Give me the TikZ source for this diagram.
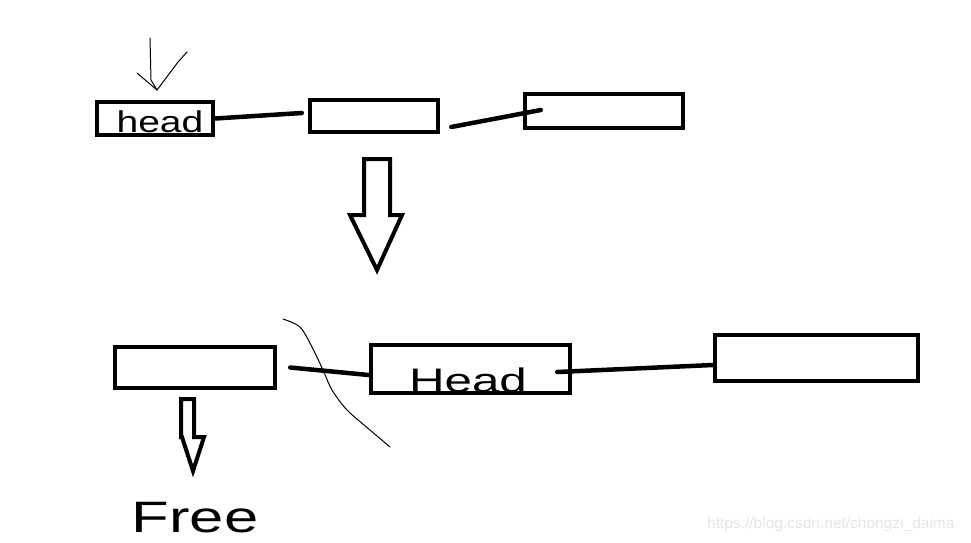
\documentclass[tikz,border=0pt]{standalone}
\usepackage{fontspec}
\setmainfont{Liberation Sans}
\usepackage{tikz}
\usetikzlibrary{positioning}

\begin{document}
\begin{tikzpicture}[
  x=1pt, y=-1pt,
  box/.style={draw, line width=4.5pt, inner sep=0pt, outer sep=2.25pt},
  link/.style={line width=4.5pt, line cap=round},
  hollow/.style={draw, line width=4pt, line join=miter, fill=white},
  pen/.style={line width=1pt, line cap=round, line join=round},
  hand/.style={font=\fontsize{30}{30}\selectfont, inner sep=0pt},
  wmark/.style={font=\fontsize{15.5}{15.5}\selectfont, text=gray!20, inner sep=0pt, anchor=west}
]
\useasboundingbox (0,0) rectangle (971,542);

% --- list before ---
\node[box, minimum width=116pt, minimum height=33pt] (oldhead) at (155,118.5) {};
\node[box, minimum width=128pt, minimum height=32pt] (second)  at (374,116) {};
\node[box, minimum width=158pt, minimum height=34pt] (third)   at (604,111) {};
\node[hand, xscale=1.3] (headtxt) at (160,122) {head};
\draw[link] (oldhead.east) -- ([xshift=-6pt, yshift=3pt]second.west);
\draw[link] ([xshift=11pt, yshift=-11pt]second.east) -- ([xshift=18pt, yshift=1pt]third.west);

% pointer drawn by hand
\coordinate (tip) at (157,90);
\draw[pen] (150,38) -- (151,80) -- (tip);
\draw[pen] (137,73) -- (tip);
\draw[pen] (tip) -- (178,62) -- (187,52);

% --- big arrow down ---
\draw[hollow] (364,159) -- (390,159) -- (390,215) -- (402,215) -- (377,270) -- (350,215) -- (364,215) -- cycle;

% --- list after ---
\node[box, minimum width=160pt, minimum height=41pt] (freed)   at (195,367.5) {};
\node[box, minimum width=199pt, minimum height=48pt] (newhead) at (470.5,369) {};
\node[box, minimum width=203pt, minimum height=46pt] (last)    at (816.5,358) {};
\node[hand, xscale=1.45, font=\fontsize{34}{34}\selectfont] (headtxt2) at (468,380) {Head};
\draw[link] ([xshift=13pt]freed.east) -- ([yshift=-6pt]newhead.west);
\draw[link] ([xshift=-15pt, yshift=-3pt]newhead.east) -- ([yshift=-7pt]last.west);

% the cut
\draw[pen] plot[smooth] coordinates {(283,319) (300,327) (312,347) (323,370) (332,390) (347,410) (370,430) (390,447)};

% --- freed node ---
\draw[hollow] (181,399) -- (194,399) -- (194,437) -- (204,437) -- (193,471) -- (182,437) -- (181,437) -- cycle;
\node[hand, xscale=1.4, font=\fontsize{44}{44}\selectfont] (freetxt) at (195,518) {Free};

% watermark
\node[wmark] (wm) at (707,524) {https://blog.csdn.net/chongzi\_daima};
\end{tikzpicture}
\end{document}
